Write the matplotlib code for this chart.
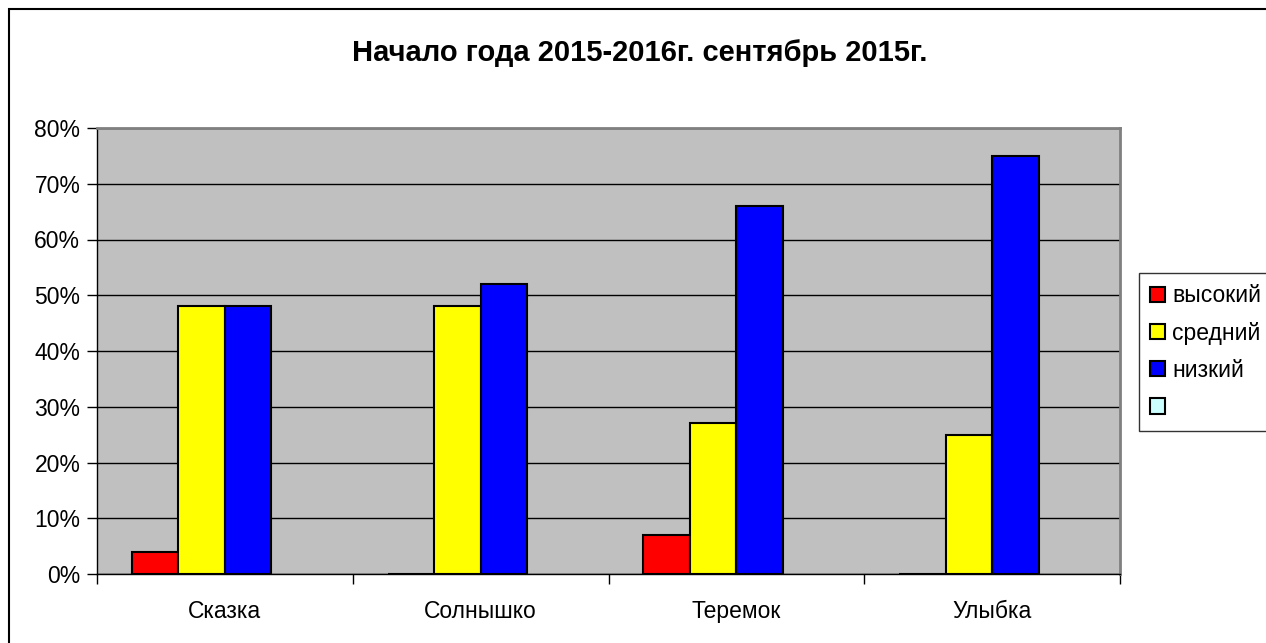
import numpy as np
import matplotlib
matplotlib.use("Agg")
import matplotlib.pyplot as plt
from matplotlib.patches import Rectangle, Patch
from matplotlib.ticker import PercentFormatter

plt.rcParams['font.family'] = ['Liberation Sans', 'DejaVu Sans']

title = "Начало года 2015-2016г. сентябрь 2015г."
categories = ["Сказка", "Солнышко", "Теремок", "Улыбка"]
series_names = ["высокий", "средний", "низкий", ""]
high = [4, 0, 7, 0]
medium = [48, 48, 27, 25]
low = [48, 52, 66, 75]
colors = ["#ff0000", "#ffff00", "#0000ff", "#ccffff"]

fig = plt.figure(figsize=(12.66, 6.43), dpi=100)
ax = fig.add_axes([97 / 1266, 1 - 574 / 643, (1120 - 97) / 1266, (574 - 128) / 643])

# excel-like layout: 4 series slots, gap width 150%
n_slots = 4
w = 1 / (n_slots + 1.5)
x = np.arange(len(categories))
for i, vals in enumerate([high, medium, low]):
    offs = (i - (n_slots - 1) / 2) * w
    ax.bar(x + offs, vals, width=w, color=colors[i], edgecolor="black",
           linewidth=1.5, zorder=3)

ax.set_facecolor("#c0c0c0")
ax.set_xlim(-0.5, len(categories) - 0.5)
ax.set_ylim(0, 80)
ax.set_yticks(np.arange(0, 81, 10))
ax.yaxis.set_major_formatter(PercentFormatter(decimals=0))
ax.grid(axis="y", color="black", linewidth=1, zorder=1)

ax.set_xticks(x)
ax.set_xticklabels(categories)
ax.set_xticks(np.arange(-0.5, len(categories)), minor=True)
ax.tick_params(axis="x", which="major", length=0, pad=19, labelsize=16.5)
ax.tick_params(axis="x", which="minor", length=7, width=1, direction="out")
ax.tick_params(axis="y", length=7, width=1, labelsize=16.5, pad=5)

for side in ["top", "right"]:
    ax.spines[side].set_color("#808080")
    ax.spines[side].set_linewidth(2)
for side in ["left", "bottom"]:
    ax.spines[side].set_color("black")
    ax.spines[side].set_linewidth(1)

fig.text(640 / 1266, 1 - 53 / 643, title, ha="center", va="center",
         fontsize=21, fontweight="bold")

handles = [Patch(facecolor=c, edgecolor="black", linewidth=1.5) for c in colors]
leg = fig.legend(handles, series_names, loc="upper left",
                 bbox_to_anchor=(1139 / 1266, 1 - 273 / 643), fontsize=16.5,
                 frameon=True, fancybox=False, edgecolor="black",
                 handlelength=0.65, handleheight=0.65, handletextpad=0.3,
                 labelspacing=0.62, borderpad=0.5, borderaxespad=0)
leg.get_frame().set_linewidth(1)

# outer chart border
fig.add_artist(Rectangle((9 / 1266, -0.1), 1.2, 1 - 9 / 643 + 0.1,
                         transform=fig.transFigure, fill=False,
                         edgecolor="black", linewidth=1.5))

fig.savefig("out.png", dpi=100)
